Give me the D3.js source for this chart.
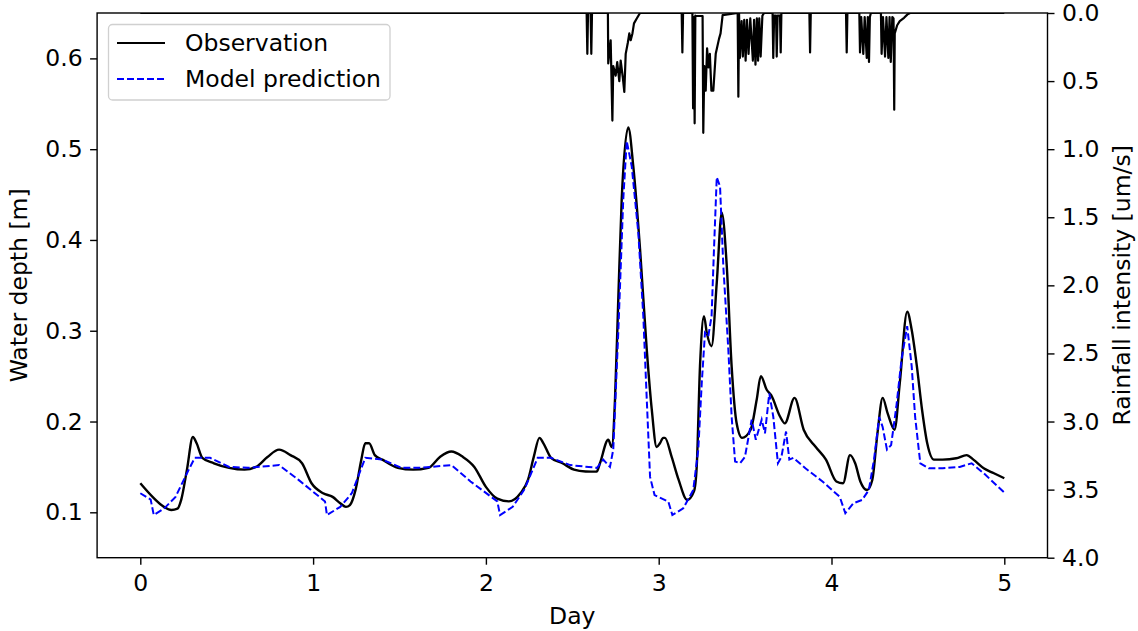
<!DOCTYPE html>
<html><head><meta charset="utf-8">
<script src="https://cdn.jsdelivr.net/npm/d3@7"></script>
<style>
body{margin:0;background:#fff;}
text{font-family:"DejaVu Sans",sans-serif;fill:#000;}
</style></head>
<body><svg id="c" width="1138" height="631"></svg>
<script>
// ---- data ----
const obsDay = [0,0.071,0.137,0.18,0.215,0.237,0.27,0.304,0.326,0.359,0.426,0.514,0.603,0.67,0.736,0.803,0.869,0.936,0.991,1.058,1.113,1.157,1.19,1.213,1.246,1.279,1.302,1.324,1.357,1.401,1.49,1.579,1.667,1.734,1.80,1.867,1.933,2.0,2.066,2.133,2.2,2.244,2.277,2.31,2.333,2.377,2.443,2.51,2.577,2.641,2.660,2.708,2.728,2.747,2.766,2.786,2.824,2.853,2.892,2.931,2.960,2.988,3.007,3.026,3.036,3.075,3.115,3.165,3.204,3.22,3.239,3.262,3.278,3.306,3.336,3.365,3.394,3.422,3.451,3.482,3.532,3.567,3.591,3.625,3.651,3.702,3.730,3.786,3.839,3.909,3.968,4.028,4.067,4.107,4.137,4.167,4.206,4.236,4.266,4.296,4.325,4.365,4.395,4.438,4.464,4.494,4.524,4.554,4.593,4.643,4.722,4.782,4.821,4.881,4.940,5.0];
const obsDepth = [0.132,0.117,0.106,0.1026,0.104,0.114,0.147,0.183,0.176,0.160,0.154,0.149,0.147,0.150,0.161,0.169,0.163,0.154,0.132,0.121,0.117,0.110,0.106,0.108,0.125,0.158,0.176,0.176,0.163,0.158,0.149,0.147,0.149,0.161,0.167,0.161,0.150,0.128,0.115,0.112,0.121,0.136,0.161,0.182,0.176,0.160,0.154,0.147,0.145,0.1448,0.154,0.180,0.172,0.224,0.334,0.445,0.524,0.481,0.390,0.279,0.213,0.172,0.176,0.182,0.182,0.161,0.136,0.1136,0.123,0.150,0.261,0.316,0.298,0.283,0.353,0.430,0.371,0.261,0.198,0.182,0.191,0.224,0.250,0.235,0.229,0.2055,0.198,0.226,0.191,0.172,0.158,0.134,0.132,0.163,0.154,0.134,0.1246,0.1356,0.187,0.226,0.209,0.191,0.242,0.321,0.301,0.261,0.213,0.176,0.158,0.158,0.1595,0.163,0.158,0.1485,0.143,0.1375];

const modelDay = [0,0.06,0.078,0.137,0.204,0.27,0.315,0.404,0.514,0.625,0.803,0.914,1.069,1.08,1.157,1.224,1.302,1.401,1.512,1.623,1.80,1.911,2.066,2.082,2.155,2.222,2.3,2.377,2.488,2.643,2.679,2.718,2.737,2.766,2.795,2.815,2.844,2.882,2.911,2.931,2.950,2.976,3.056,3.079,3.142,3.200,3.229,3.249,3.268,3.287,3.306,3.32,3.336,3.355,3.374,3.403,3.422,3.442,3.471,3.499,3.538,3.562,3.596,3.615,3.640,3.663,3.690,3.710,3.737,3.756,3.780,3.849,3.948,4.048,4.080,4.127,4.177,4.216,4.246,4.276,4.296,4.321,4.345,4.375,4.405,4.438,4.464,4.484,4.514,4.563,4.643,4.742,4.811,4.881,5.0];
const modelDepth = [0.121,0.114,0.097,0.104,0.117,0.143,0.160,0.160,0.150,0.149,0.152,0.136,0.112,0.097,0.106,0.121,0.160,0.158,0.149,0.149,0.152,0.134,0.112,0.097,0.106,0.125,0.160,0.160,0.152,0.149,0.158,0.150,0.169,0.298,0.445,0.509,0.481,0.408,0.316,0.224,0.139,0.119,0.1117,0.097,0.1044,0.1246,0.169,0.242,0.298,0.294,0.316,0.390,0.469,0.459,0.371,0.279,0.2055,0.156,0.154,0.161,0.202,0.180,0.202,0.187,0.231,0.2055,0.154,0.161,0.189,0.158,0.160,0.1485,0.134,0.117,0.099,0.110,0.1136,0.1246,0.158,0.205,0.194,0.169,0.174,0.216,0.268,0.305,0.261,0.205,0.154,0.1485,0.1485,0.150,0.154,0.143,0.1217];

const rainDay = [0,2.583,2.587,2.591,2.606,2.610,2.614,2.706,2.708,2.722,2.732,2.737,2.751,2.760,2.772,2.780,2.792,2.801,2.809,2.821,2.830,2.838,2.848,2.857,2.873,2.892,
3.133,3.137,3.141,3.195,3.199,3.203,3.208,3.212,3.216,3.254,3.258,3.264,3.272,3.280,3.288,3.296,3.305,3.316,3.330,3.349,3.358,3.370,
3.457,3.461,3.465,3.470,3.480,3.487,3.495,3.503,3.511,3.520,3.530,3.545,3.552,3.560,3.568,3.575,3.582,3.590,3.600,3.610,
3.659,3.663,3.668,3.679,3.683,3.688,3.702,3.706,3.710,3.872,3.876,3.880,4.084,4.088,4.092,
4.161,4.165,4.172,4.184,4.192,4.204,4.210,4.217,4.222,4.228,4.286,4.290,4.298,4.310,4.318,4.329,4.336,4.343,4.352,4.359,4.363,4.366,4.380,4.395,4.420,4.440,4.455,5.0];
const rainVal = [0,0,0.30,0,0,0.30,0,0,0.37,0.20,0.79,0.39,0.46,0.36,0.50,0.35,0.47,0.58,0.30,0.22,0.15,0.20,0.15,0.076,0.04,0,
0,0.29,0,0,0.70,0.03,0.81,0.02,0.022,0.022,0.88,0.39,0.57,0.26,0.40,0.30,0.57,0.57,0.30,0.19,0.15,0.015,
0,0.615,0,0.33,0.06,0.32,0.05,0.35,0.05,0.30,0.04,0.35,0.05,0.38,0.04,0.35,0.04,0.32,0.02,0,
0,0.33,0.02,0.02,0.32,0.02,0.02,0.29,0,0,0.29,0,0,0.29,0,
0,0.29,0.03,0.30,0.03,0.33,0.03,0.36,0.03,0,0,0.30,0.03,0.32,0.03,0.33,0.03,0.36,0.03,0.04,0.71,0.15,0.09,0.06,0.035,0.01,0,0];

const xTicks = [0,1,2,3,4,5];
const yTicks = [0.1,0.2,0.3,0.4,0.5,0.6];
const rTicks = [0.0,0.5,1.0,1.5,2.0,2.5,3.0,3.5,4.0];

// ---- layout ----
const L = 97.1, R = 1047.5, T = 13, B = 557.7;
const FS = 23.5;
const svg = d3.select("#c");
const x = d3.scaleLinear().domain([-0.25, 5.25]).range([L, R]);
const y = d3.scaleLinear().domain([0.05, 0.65]).range([B, T]);
const yr = d3.scaleLinear().domain([0, 4]).range([T, B]);

svg.append("defs").append("clipPath").attr("id","clip")
  .append("rect").attr("x",L).attr("y",T).attr("width",R-L).attr("height",B-T);

const obs = obsDay.map((d,i)=>[d,obsDepth[i]]);
const mod = modelDay.map((d,i)=>[d,modelDepth[i]]);
const rain = rainDay.map((d,i)=>[d,rainVal[i]]);

const g = svg.append("g").attr("clip-path","url(#clip)");
g.append("path").datum(obs)
  .attr("d", d3.line().curve(d3.curveMonotoneX).x(d=>x(d[0])).y(d=>y(d[1])))
  .attr("fill","none").attr("stroke","#000").attr("stroke-width",2.4).attr("stroke-linejoin","round");
g.append("path").datum(mod)
  .attr("d", d3.line().x(d=>x(d[0])).y(d=>y(d[1])))
  .attr("fill","none").attr("stroke","#0000ff").attr("stroke-width",2).attr("stroke-dasharray","7,3");
g.append("path").datum(rain)
  .attr("d", d3.line().x(d=>x(d[0])).y(d=>yr(d[1])))
  .attr("fill","none").attr("stroke","#000").attr("stroke-width",2.2).attr("stroke-linejoin","round");

// frame
svg.append("rect").attr("x",L).attr("y",T).attr("width",R-L).attr("height",B-T)
  .attr("fill","none").attr("stroke","#000").attr("stroke-width",1.4);

function style(ax){
  ax.select(".domain").remove();
  ax.selectAll(".tick line").attr("stroke","#000").attr("stroke-width",1.4);
  ax.selectAll(".tick text").attr("font-size",FS).attr("font-family","DejaVu Sans").attr("fill","#000");
}
const gx = svg.append("g").attr("transform",`translate(0,${B})`)
  .call(d3.axisBottom(x).tickValues(xTicks).tickSize(7).tickPadding(9.5).tickFormat(d3.format("d")));
style(gx);
const gy = svg.append("g").attr("transform",`translate(${L},0)`)
  .call(d3.axisLeft(y).tickValues(yTicks).tickSize(7).tickPadding(7.5).tickFormat(d3.format(".1f")));
style(gy);
const gr = svg.append("g").attr("transform",`translate(${R},0)`)
  .call(d3.axisRight(yr).tickValues(rTicks).tickSize(7).tickPadding(7.5).tickFormat(d3.format(".1f")));
style(gr);

// axis labels
svg.append("text").attr("x",(L+R)/2).attr("y",624).attr("text-anchor","middle").attr("font-size",FS).text("Day");
svg.append("text").attr("transform",`translate(27,${(T+B)/2}) rotate(-90)`).attr("text-anchor","middle").attr("font-size",FS).text("Water depth [m]");
svg.append("text").attr("transform",`translate(1129.5,${(T+B)/2}) rotate(-90)`).attr("text-anchor","middle").attr("font-size",FS).text("Rainfall intensity [um/s]");

// legend
const lg = svg.append("g");
lg.append("rect").attr("x",108.5).attr("y",24.5).attr("width",281.5).attr("height",75.5).attr("rx",4)
  .attr("fill","#fff").attr("fill-opacity",0.8).attr("stroke","#d0d0d0").attr("stroke-width",1.3);
lg.append("line").attr("x1",117).attr("x2",165).attr("y1",43).attr("y2",43).attr("stroke","#000").attr("stroke-width",2.2);
lg.append("line").attr("x1",117).attr("x2",165).attr("y1",79).attr("y2",79).attr("stroke","#0000ff").attr("stroke-width",2).attr("stroke-dasharray","7,3");
lg.append("text").attr("x",185).attr("y",43).attr("dy","0.36em").attr("font-size",FS).text("Observation");
lg.append("text").attr("x",185).attr("y",79).attr("dy","0.36em").attr("font-size",FS).text("Model prediction");
</script></body></html>
